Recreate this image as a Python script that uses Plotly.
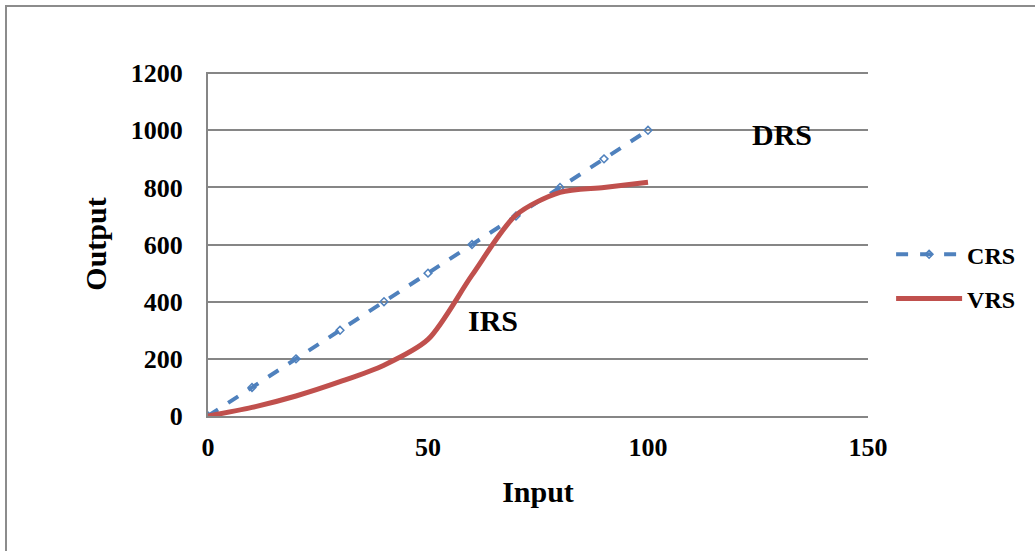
import plotly.graph_objects as go

inputs = [0, 10, 20, 30, 40, 50, 60, 70, 80, 90, 100]
crs = [0, 100, 200, 300, 400, 500, 600, 700, 800, 900, 1000]
vrs = [0, 30, 70, 120, 178, 268, 493, 703, 783, 800, 818]
x_ticks = [0, 50, 100, 150]
y_ticks = [0, 200, 400, 600, 800, 1000, 1200]

FONT = "Liberation Serif"
W, H = 1035, 551
L, R, T, B = 208, 1035 - 868, 72, 551 - 416

fig = go.Figure()
fig.add_trace(go.Scatter(
    x=inputs, y=crs, name="CRS", mode="lines+markers", legendgroup="a",
    line=dict(color="#4F81BD", width=4, dash="dash"),
    marker=dict(symbol="diamond-open", size=6, color="#4F81BD", line=dict(width=1.5)),
))
fig.add_trace(go.Scatter(
    x=inputs, y=vrs, name="VRS", mode="lines", legendgroup="b",
    line=dict(color="#C0504D", width=5, shape="spline", smoothing=0.8),
))

pw, ph = W - L - R, H - T - B
fig.add_shape(type="rect", xref="paper", yref="paper",
              x0=(6 - L) / pw, x1=2, y0=-2, y1=(H - B - 6) / ph,
              line=dict(color="#8c8c8c", width=2), layer="below")

ann_font = dict(family=FONT, size=30, color="black", weight="bold")
fig.add_annotation(x=130.5, y=985, text="DRS", showarrow=False, xref="x", yref="y", font=ann_font)
fig.add_annotation(x=64.8, y=336, text="IRS", showarrow=False, xref="x", yref="y", font=ann_font)

tick_font = dict(family=FONT, size=26, color="black", weight="bold")
title_font = dict(family=FONT, size=30, color="black", weight="bold")
fig.update_layout(
    width=W, height=H,
    margin=dict(l=L, r=R, t=T, b=B),
    plot_bgcolor="white", paper_bgcolor="white",
    font=dict(family=FONT, size=22, color="black", weight="bold"),
    showlegend=True,
    legend=dict(x=1.035, y=0.405, xanchor="left", yanchor="middle",
                font=dict(family=FONT, size=24, color="black", weight="bold"),
                tracegroupgap=10, itemwidth=66, traceorder="grouped"),
    xaxis=dict(range=[0, 150], tickvals=x_ticks, showgrid=False,
               showline=True, linecolor="#868686", linewidth=2, zeroline=False,
               ticks="", tickfont=tick_font, ticklabelstandoff=7,
               title=dict(text="Input", font=title_font, standoff=20)),
    yaxis=dict(range=[0, 1204], tickvals=y_ticks,
               showgrid=True, gridcolor="#868686", gridwidth=1.5,
               showline=True, linecolor="#868686", linewidth=2, zeroline=False,
               ticks="", tickfont=tick_font, ticklabelstandoff=18,
               title=dict(text="Output", font=title_font, standoff=15)),
)

fig.write_html("out.html")
